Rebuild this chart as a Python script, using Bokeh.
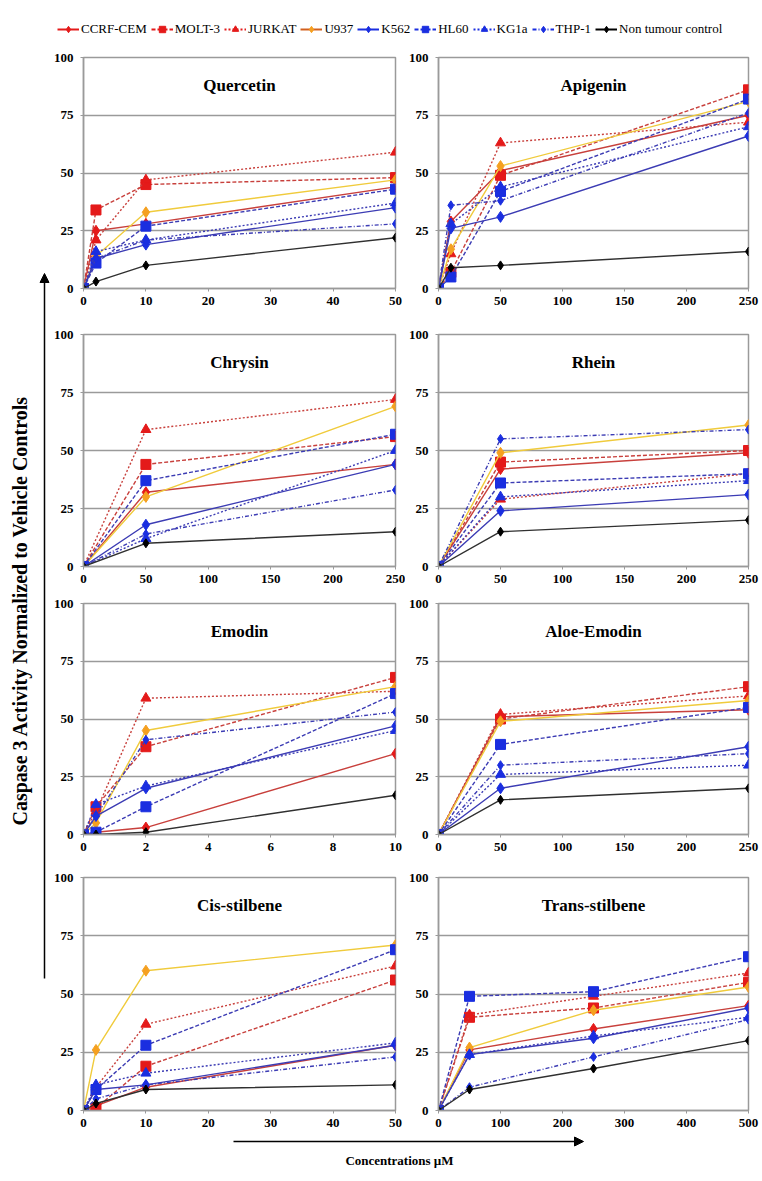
import math
from bokeh.plotting import figure
from bokeh.models import Range1d, FixedTicker, Label, Legend, LegendItem, Arrow, NormalHead
from bokeh.layouts import column, row
from bokeh.embed import file_html
from bokeh.resources import INLINE

# ---------------- data ----------------
SERIES = ["CCRF-CEM", "MOLT-3", "JURKAT", "U937", "K562", "HL60", "KG1a", "THP-1",
          "Non tumour control"]
Y_TICKS = [0, 25, 50, 75, 100]

QUERCETIN_X = [0, 2, 10, 50]
QUERCETIN_XTICKS = [0, 10, 20, 30, 40, 50]
QUERCETIN = {
    "CCRF-CEM": [0, 25, 28, 44], "MOLT-3": [0, 34, 45, 48], "JURKAT": [0, 21, 47, 59],
    "U937": [0, 14, 33, 47], "K562": [0, 13, 19, 35], "HL60": [0, 11, 27, 43],
    "KG1a": [0, 16, 21, 37], "THP-1": [0, 13, 21, 28], "Non tumour control": [0, 3, 10, 22],
}

APIGENIN_X = [0, 10, 50, 250]
APIGENIN_XTICKS = [0, 50, 100, 150, 200, 250]
APIGENIN = {
    "CCRF-CEM": [0, 29, 51, 75], "MOLT-3": [0, 7, 49, 86], "JURKAT": [0, 15, 63, 72],
    "U937": [0, 17, 53, 81], "K562": [0, 26, 31, 66], "HL60": [0, 5, 42, 82],
    "KG1a": [0, 28, 44, 70], "THP-1": [0, 36, 38, 76], "Non tumour control": [0, 9, 10, 16],
}

CHRYSIN_X = [0, 50, 250]
CHRYSIN_XTICKS = [0, 50, 100, 150, 200, 250]
CHRYSIN = {
    "CCRF-CEM": [0, 32, 44], "MOLT-3": [0, 44, 56], "JURKAT": [0, 59, 72],
    "U937": [0, 30, 69], "K562": [0, 18, 44], "HL60": [0, 37, 57],
    "KG1a": [0, 12, 50], "THP-1": [0, 14, 33], "Non tumour control": [0, 10, 15],
}

RHEIN_X = [0, 50, 250]
RHEIN_XTICKS = [0, 50, 100, 150, 200, 250]
RHEIN = {
    "CCRF-CEM": [0, 42, 49], "MOLT-3": [0, 45, 50], "JURKAT": [0, 29, 40],
    "U937": [0, 49, 61], "K562": [0, 24, 31], "HL60": [0, 36, 40],
    "KG1a": [0, 30, 37], "THP-1": [0, 55, 59], "Non tumour control": [0, 15, 20],
}

EMODIN_X = [0, 0.4, 2, 10]
EMODIN_XTICKS = [0, 2, 4, 6, 8, 10]
EMODIN = {
    "CCRF-CEM": [0, 1, 3, 35], "MOLT-3": [0, 12, 38, 68], "JURKAT": [0, 10, 59, 62],
    "U937": [0, 5, 45, 64], "K562": [0, 8, 20, 47], "HL60": [0, 1, 12, 61],
    "KG1a": [0, 13, 21, 45], "THP-1": [0, 8, 41, 53], "Non tumour control": [0, 0, 1, 17],
}

ALOE_X = [0, 50, 250]
ALOE_XTICKS = [0, 50, 100, 150, 200, 250]
ALOE = {
    "CCRF-CEM": [0, 51, 54], "MOLT-3": [0, 50, 64], "JURKAT": [0, 52, 60],
    "U937": [0, 49, 58], "K562": [0, 20, 38], "HL60": [0, 39, 55],
    "KG1a": [0, 26, 30], "THP-1": [0, 30, 35], "Non tumour control": [0, 15, 20],
}

CIS_X = [0, 2, 10, 50]
CIS_XTICKS = [0, 10, 20, 30, 40, 50]
CIS = {
    "CCRF-CEM": [0, 2, 10, 28], "MOLT-3": [0, 1, 19, 56], "JURKAT": [0, 10, 37, 62],
    "U937": [0, 26, 60, 71], "K562": [0, 9, 11, 28], "HL60": [0, 9, 28, 69],
    "KG1a": [0, 11, 16, 29], "THP-1": [0, 5, 11, 23], "Non tumour control": [0, 3, 9, 11],
}

TRANS_X = [0, 50, 250, 500]
TRANS_XTICKS = [0, 100, 200, 300, 400, 500]
TRANS = {
    "CCRF-CEM": [0, 26, 35, 45], "MOLT-3": [0, 40, 44, 55], "JURKAT": [0, 41, 49, 59],
    "U937": [0, 27, 43, 53], "K562": [0, 24, 31, 44], "HL60": [0, 49, 51, 66],
    "KG1a": [0, 24, 32, 40], "THP-1": [0, 10, 23, 39], "Non tumour control": [0, 9, 18, 30],
}

PANELS = [
    ("Quercetin", QUERCETIN_X, QUERCETIN_XTICKS, QUERCETIN),
    ("Apigenin", APIGENIN_X, APIGENIN_XTICKS, APIGENIN),
    ("Chrysin", CHRYSIN_X, CHRYSIN_XTICKS, CHRYSIN),
    ("Rhein", RHEIN_X, RHEIN_XTICKS, RHEIN),
    ("Emodin", EMODIN_X, EMODIN_XTICKS, EMODIN),
    ("Aloe-Emodin", ALOE_X, ALOE_XTICKS, ALOE),
    ("Cis-stilbene", CIS_X, CIS_XTICKS, CIS),
    ("Trans-stilbene", TRANS_X, TRANS_XTICKS, TRANS),
]

# ---------------- styles ----------------
RED_L, RED_M = "#C8403C", "#E41A1A"
BLUE_L, BLUE_M = "#3C3CB4", "#1A2EE0"
STYLE = {
    "CCRF-CEM": dict(lc=RED_L, mc=RED_M, dash="solid", marker="diamond", size=11),
    "MOLT-3": dict(lc=RED_L, mc=RED_M, dash="4 2", marker="square", size=10),
    "JURKAT": dict(lc=RED_L, mc=RED_M, dash="2 2", marker="triangle", size=10),
    "U937": dict(lc="#F0CB3C", mc="#F5A020", dash="solid", marker="diamond", size=11),
    "K562": dict(lc=BLUE_L, mc=BLUE_M, dash="solid", marker="diamond", size=11),
    "HL60": dict(lc=BLUE_L, mc=BLUE_M, dash="4 2", marker="square", size=10),
    "KG1a": dict(lc=BLUE_L, mc=BLUE_M, dash="2 2", marker="triangle", size=10),
    "THP-1": dict(lc=BLUE_L, mc=BLUE_M, dash="4 2 1 2", marker="diamond", size=9),
    "Non tumour control": dict(lc="#303030", mc="#000000", dash="solid", marker="diamond", size=9),
}
LEGEND_LINE = {"U937": "#D2601E"}
FONT = "Liberation Serif"
QFONT = "'Liberation Serif', serif"
GRAY = "#9A9A9A"

# ---------------- layout geometry ----------------
ROWS = [(273, 12, 30), (272, 16, 24), (272, 13, 28), (273, 15, 25)]
LEFT_W, RIGHT_W = 355, 357
NAN = float("nan")


def make_panel(idx):
    name, xs, xticks, data = PANELS[idx]
    r = idx // 2
    h, top, bottom = ROWS[r]
    left_col = idx % 2 == 0
    w = LEFT_W if left_col else RIGHT_W
    p = figure(width=w, height=h, output_backend="svg", toolbar_location=None,
               x_range=Range1d(0, xticks[-1]), y_range=Range1d(0, 100),
               min_border_left=33, min_border_right=10 if left_col else 14,
               min_border_top=top, min_border_bottom=bottom)
    p.outline_line_color = GRAY
    p.outline_line_width = 1.5
    p.background_fill_color = "white"
    p.border_fill_color = "white"
    p.xgrid.visible = False
    p.ygrid.grid_line_color = GRAY
    p.ygrid.grid_line_width = 1.5
    p.ygrid.ticker = FixedTicker(ticks=Y_TICKS)
    p.yaxis.ticker = FixedTicker(ticks=Y_TICKS)
    p.xaxis.ticker = FixedTicker(ticks=xticks)
    for ax in (p.xaxis, p.yaxis):
        ax.axis_line_color = GRAY
        ax.axis_line_width = 1.5
        ax.major_tick_line_color = GRAY
        ax.major_tick_in = 0
        ax.major_tick_out = 3
        ax.minor_tick_line_color = None
        ax.major_label_text_font = QFONT
        ax.major_label_text_font_style = "bold"
        ax.major_label_text_font_size = "13px"
        ax.major_label_text_color = "#000000"
    p.xaxis.major_label_standoff = 5
    p.yaxis.major_label_standoff = 7

    for s in SERIES:
        st = STYLE[s]
        p.line(xs, data[s], line_color=st["lc"], line_width=1.4, line_dash=st["dash"])
        p.scatter(xs, data[s], marker=st["marker"], size=st["size"],
                  fill_color=st["mc"], line_color=st["mc"])

    p.add_layout(Label(x=xticks[-1] / 2, y=88, text=name, text_align="center",
                       text_baseline="middle", text_font=FONT, text_font_style="bold",
                       text_font_size="17px", text_color="#000000"))
    return p


# legend figure (placeholder renderers hold a single NaN so nothing is plotted)
leg = figure(width=762, height=45, output_backend="svg", toolbar_location=None,
             x_range=Range1d(0, 1), y_range=Range1d(0, 1),
             min_border=0, outline_line_color=None)
leg.axis.visible = False
leg.grid.visible = False
items = []
for s in SERIES:
    st = STYLE[s]
    lr = leg.line([NAN], [NAN], line_color=LEGEND_LINE.get(s, st["mc"]), line_width=2,
                  line_dash=st["dash"])
    sr = leg.scatter([NAN], [NAN], marker=st["marker"], size=st["size"] - 1,
                     fill_color=st["mc"], line_color=st["mc"])
    items.append(LegendItem(label=s, renderers=[lr, sr]))
legend = Legend(items=items, orientation="horizontal", location=(57, 8),
                border_line_color=None, background_fill_alpha=0,
                label_text_font=QFONT, label_text_font_size="13px",
                label_text_color="#000000",
                glyph_width=22, glyph_height=16, label_standoff=2, spacing=4,
                padding=0, margin=0, label_height=16)
leg.add_layout(legend, "center")

# left figure with y label and arrow (coordinates in page pixels)
lf = figure(width=50, height=1090, output_backend="svg", toolbar_location=None,
            x_range=Range1d(0, 50), y_range=Range1d(1090, 0),
            min_border=0, outline_line_color=None)
lf.axis.visible = False
lf.grid.visible = False
lf.add_layout(Arrow(end=NormalHead(size=9, fill_color="black", line_color="black"),
                    x_start=44, y_start=933, x_end=44, y_end=228,
                    line_color="black", line_width=1.5))
lf.add_layout(Label(x=19, y=565, text="Caspase 3 Activity Normalized to Vehicle Controls",
                    angle=math.pi / 2, text_align="center", text_baseline="middle",
                    text_font=FONT, text_font_style="bold", text_font_size="20px",
                    text_color="#000000"))

# bottom figure with x label and arrow
bf = figure(width=762, height=46, output_backend="svg", toolbar_location=None,
            x_range=Range1d(0, 762), y_range=Range1d(46, 0),
            min_border=0, outline_line_color=None)
bf.axis.visible = False
bf.grid.visible = False
bf.add_layout(Arrow(end=NormalHead(size=9, fill_color="black", line_color="black"),
                    x_start=233, y_start=6, x_end=583, y_end=6,
                    line_color="black", line_width=1.5))
bf.add_layout(Label(x=399, y=25, text="Concentrations \u00b5M", text_align="center",
                    text_baseline="middle", text_font=FONT, text_font_style="bold",
                    text_font_size="13px", text_color="#000000"))

panels = [make_panel(i) for i in range(8)]
grid = column(*[row(panels[2 * r], panels[2 * r + 1]) for r in range(4)])
layout = column(leg, row(lf, grid), bf)

open("out.html", "w").write(file_html(layout, INLINE))
